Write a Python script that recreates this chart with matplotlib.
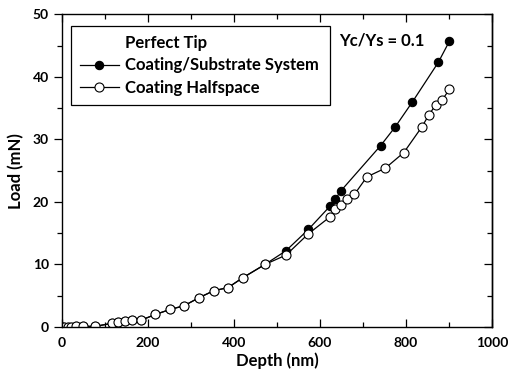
import numpy as np
import matplotlib
matplotlib.use("Agg")
import matplotlib.pyplot as plt
from matplotlib.lines import Line2D

plt.rcParams['font.family'] = ['Lato', 'DejaVu Sans']

# Coating/Substrate System (filled circles)
depth_sys = [0, 5, 13, 20, 32, 50, 77, 117, 131, 147, 162, 184, 217, 251, 284,
             319, 353, 386, 421, 472, 521, 573, 623, 636, 649, 741, 775, 815, 875, 901]
load_sys = [0, 0, 0, 0, 0.1, 0.1, 0.1, 0.6, 0.8, 0.9, 1.1, 1.1, 2.0, 2.8, 3.4,
            4.7, 5.8, 6.3, 7.9, 10.0, 12.2, 15.6, 19.3, 20.5, 21.8, 29.0, 32.0, 36.0, 42.3, 45.7]

# Coating Halfspace (open circles)
depth_half = [0, 5, 13, 20, 32, 50, 77, 117, 131, 147, 162, 184, 217, 251, 284,
              319, 353, 386, 421, 472, 521, 573, 623, 636, 649, 662, 680, 709, 752,
              795, 837, 853, 869, 884, 901]
load_half = [0, 0, 0, 0, 0.1, 0.1, 0.1, 0.6, 0.8, 0.9, 1.1, 1.1, 2.0, 2.8, 3.4,
             4.7, 5.8, 6.3, 7.9, 10.0, 11.5, 14.9, 17.6, 18.9, 19.5, 20.5, 21.2, 24.0, 25.4,
             27.9, 32.0, 33.9, 35.5, 36.3, 38.0]

x_ticks = [0, 200, 400, 600, 800, 1000]
y_ticks = [0, 10, 20, 30, 40, 50]

fig = plt.figure(figsize=(5.09, 3.76), dpi=100)
ax = fig.add_axes([0.1218, 0.1303, 0.8448, 0.8317])

ax.plot(depth_sys, load_sys, '-o', color='black', lw=0.9, ms=6,
        mfc='black', mec='black', mew=0.8, label='Coating/Substrate System')
ax.plot(depth_half, load_half, '-o', color='black', lw=0.9, ms=6.5,
        mfc='white', mec='black', mew=0.8, label='Coating Halfspace')

ax.set_xlim(0, 1000)
ax.set_ylim(0, 50)
ax.set_xticks(x_ticks)
ax.set_yticks(y_ticks)
ax.set_xticks(np.arange(100, 1000, 200), minor=True)
ax.set_yticks(np.arange(5, 50, 10), minor=True)
ax.tick_params(axis='y', which='both', direction='out', left=True, right=False)
ax.tick_params(axis='x', which='both', direction='in', top=True, bottom=True)
ax.tick_params(which='major', length=6, width=0.9, labelsize=10)
ax.tick_params(which='minor', length=3.5, width=0.9)
ax.tick_params(axis='x', which='major', pad=7)
for lab in ax.get_xticklabels() + ax.get_yticklabels():
    lab.set_fontweight('bold')
# right side ticks point inward
axr = ax.secondary_yaxis('right')
axr.set_yticks(y_ticks)
axr.set_yticks(np.arange(5, 50, 10), minor=True)
axr.tick_params(which='both', direction='in', labelright=False)
axr.tick_params(which='major', length=6, width=0.9)
axr.tick_params(which='minor', length=3.5, width=0.9)
for s in ax.spines.values():
    s.set_linewidth(1.0)
axr.spines['right'].set_linewidth(1.0)

ax.set_xlabel('Depth (nm)', fontsize=12, fontweight='bold', labelpad=3)
ax.set_ylabel('Load (mN)', fontsize=12, fontweight='bold', labelpad=6)

title_handle = Line2D([], [], linestyle='none')
h, l = ax.get_legend_handles_labels()
leg = ax.legend([title_handle] + h, ['Perfect Tip'] + l,
                loc='upper left', bbox_to_anchor=(0.021, 0.963, 0.602, 0.0),
                mode='expand', fancybox=False, edgecolor='black', framealpha=1,
                fontsize=12, handlelength=2.3, handletextpad=0.4,
                borderpad=0.55, labelspacing=0.38, borderaxespad=0)
leg.get_frame().set_linewidth(0.9)
for t in leg.get_texts():
    t.set_fontweight('bold')

ax.text(0.645, 0.915, 'Yc/Ys = 0.1', transform=ax.transAxes,
        fontsize=12, fontweight='bold', va='center', ha='left')

fig.savefig('out.png', dpi=100)
